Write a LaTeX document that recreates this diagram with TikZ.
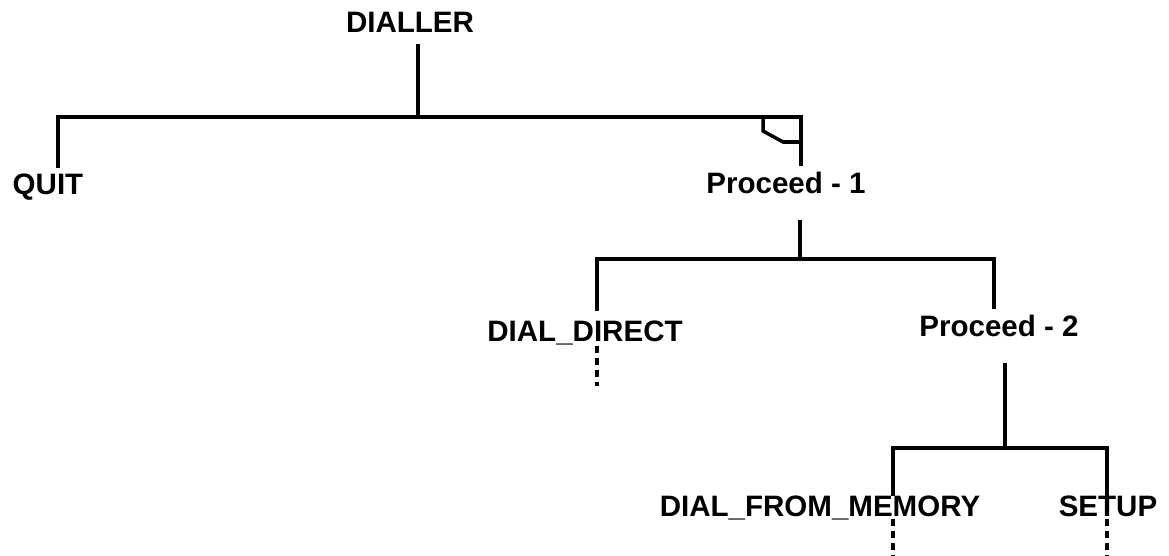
\documentclass[tikz,border=0pt]{standalone}
\usepackage{fontspec}
\setmainfont{Liberation Sans}
\usepackage{tikz}

\begin{document}
\begin{tikzpicture}[
    x=0.025cm, y=-0.025cm,
    label/.style={
        inner sep=0pt, text height=0.72em, text depth=0pt,
        font=\fontsize{21pt}{25pt}\selectfont\bfseries
    },
    branch/.style={line width=2.5pt, line join=miter},
    more/.style={line width=2.5pt, dash pattern=on 5pt off 3.5pt}
]
\useasboundingbox (0,0) rectangle (1169,556);

% Level 0
\node[label] (dialler) at (410,27) {DIALLER};

% Level 1
\node[label] (quit) at (48,189) {QUIT};
\node[label] (proc1) at (786,188) {Proceed - 1};

% Level 2
\node[label] (direct) at (585,336) {DIAL\_DIRECT};
\node[label] (proc2) at (999,331) {Proceed - 2};

% Level 3
\node[label] (memory) at (820,511) {DIAL\_FROM\_MEMORY};
\node[label] (setup) at (1108,511) {SETUP};

% Junctions
\coordinate (j0) at (418,117);
\coordinate (b0l) at (58,117);
\coordinate (b0r) at (801,117);
\coordinate (j1) at (800,259);
\coordinate (b1l) at (597,259);
\coordinate (b1r) at (994,259);
\coordinate (j2) at (1005,448);
\coordinate (b2l) at (893,448);
\coordinate (b2r) at (1107,448);
\coordinate (e1) at (597,386);
\coordinate (e2) at (893,556);
\coordinate (e3) at (1107,556);

% Tree lines
\draw[branch, shorten <=0.3cm] (dialler.south -| j0) -- (j0);
\draw[branch, shorten <=0.4cm, shorten >=0.42cm]
    (quit.north -| b0l) -- (b0l) -- (b0r) -- (proc1.north -| b0r);
\draw[branch] (b0r) ++(-38,0) -- ++(0,14) -- ++(20,11) -- ++(18,0);

\draw[branch, shorten <=0.66cm] (proc1.south -| j1) -- (j1);
\draw[branch, shorten <=0.5cm, shorten >=0.42cm]
    (direct.north -| b1l) -- (b1l) -- (b1r) -- (proc2.north -| b1r);

\draw[branch, shorten <=0.66cm] (proc2.south -| j2) -- (j2);
\draw[branch, shorten <=0.25cm, shorten >=0.25cm]
    (memory.north -| b2l) -- (b2l) -- (b2r) -- (setup.north -| b2r);

% Continuations
\draw[more, shorten <=0.12cm] (direct.south -| e1) -- (e1);
\draw[more, shorten <=0.06cm] (memory.south -| e2) -- (e2);
\draw[more, shorten <=0.06cm] (setup.south -| e3) -- (e3);

\end{tikzpicture}
\end{document}
